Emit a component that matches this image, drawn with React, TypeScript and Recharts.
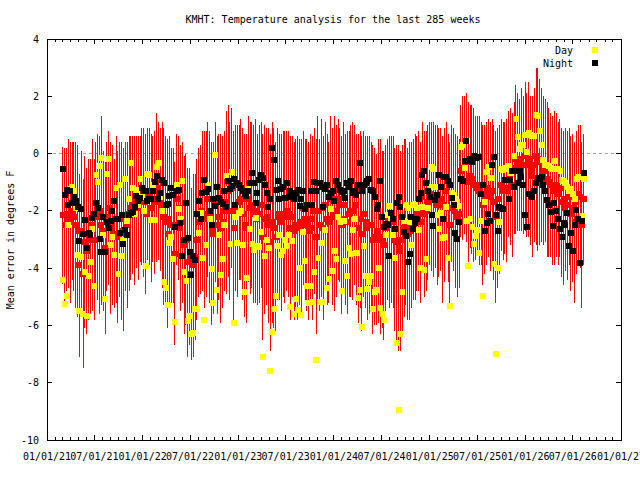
import { ScatterChart, Scatter, XAxis, YAxis, ErrorBar, ReferenceLine, ReferenceArea } from 'recharts';

// weekly forecast error, degrees F, first week 2021-03-03
const FIRST_WEEK = Date.UTC(2021, 2, 3);
const WEEK_MS = 7 * 24 * 3600 * 1000;
const X_MIN = Date.UTC(2021, 0, 1);
const X_MAX = Date.UTC(2027, 0, 1);

const dayError = [
  -4.4, -5.24, -4.97, -2.49, -1.22, -1.16, -1.3, -1.9, -3.54, -5.5, -3.6, -5.59, -4.12, -5.67, -4.28,
  -3.77, -2.63, -4.61, -0.76, -0.98, -0.45, -0.14, -2.86, -5.08, -0.73, -0.2, -3.2, -2.9, -3.54, -1.2,
  -4.2, -1.08, -3.57, -3.0, -0.9, -2.37, -1.6, -0.34, -1.2, -2.1, -1.27, -1.8, -0.9, -1.5, -2.0,
  -3.91, -0.71, -0.74, -2.32, -1.11, -2.32, -0.46, -0.34, -1.5, -2.0, -4.47, -4.68, -5.28, -3.12, -2.9,
  -3.68, -5.87, -1.09, -1.95, -2.28, -0.97, -4.12, -4.44, -5.84, -5.66, -6.29, -6.27, -5.43, -5.43, -2.77,
  -2.07, -3.63, -5.8, -3.2, -1.08, -2.28, -4.03, -5.22, -0.04, -4.75, -2.84, -4.24, -3.68, -2.5, -0.78,
  -1.25, -3.16, -0.64, -5.9, -2.23, -3.12, -2.07, -2.0, -3.19, -4.82, -4.35, -1.25, -2.65, -3.14, -3.37,
  -2.25, -3.23, -3.26, -2.74, -7.1, -3.56, -3.0, -3.3, -7.6, -6.22, -5.43, -4.96, -3.23, -2.84, -3.54,
  -3.4, -3.0, -3.23, -2.84, -5.36, -3.05, -5.61, -5.08, -5.47, -4.0, -5.64, -2.74, -3.75, -4.61, -5.22,
  -4.63, -5.19, -4.14, -7.2, -3.63, -5.17, -3.12, -5.19, -2.67, -4.7, -4.38, -1.95, -4.1, -3.4, -3.68,
  -2.21, -2.39, -4.8, -2.37, -3.75, -4.28, -3.28, -3.49, -2.67, -2.28, -3.47, -5.03, -4.77, -6.06, -3.21,
  -4.28, -4.73, -4.47, -4.26, -5.43, -4.82, -4.77, -3.98, -5.4, -5.6, -5.82, -2.86, -2.16, -1.83, -2.25,
  -2.86, -3.63, -6.6, -8.95, -6.31, -4.82, -2.35, -1.81, -1.9, -2.4, -3.19, -1.81, -1.76, -1.9, -2.67,
  -3.98, -1.88, -4.05, -3.68, -1.9, -1.18, -0.48, -0.53, -1.16, -2.16, -2.65, -2.07, -2.94, -2.93, -1.86,
  -3.63, -5.33, -1.37, -1.44, -1.6, -1.69, -1.83, 0.22, 0.29, -0.5, -2.35, -3.91, -2.28, -2.56, -3.14,
  -2.88, -2.67, -3.47, -2.35, -4.96, -1.69, -0.64, -0.46, -0.85, -0.85, -3.84, -7.0, -4.0, -2.39, -0.53,
  -0.57, -0.5, -0.55, -0.43, -0.67, -0.62, -0.08, 1.2, 0.57, 0.15, 0.29, 0.29, 0.66, 0.06, 0.73,
  0.64, 0.62, 0.62, 1.34, 1.32, 0.78, 0.29, -0.22, -0.41, -0.41, -0.43, -0.5, -0.55, -0.27, -0.53,
  -0.55, -0.6, -0.92, -0.97, -1.02, -1.18, -1.3, -1.25, -1.4, -1.6, -0.9, -0.81, -0.81, -2.18, -0.9,
];

const nightError = [
  -0.55, -1.45, -1.26, -1.79, -1.29, -1.74, -1.51, -1.67, -1.88, -3.04, -1.93, -2.8, -2.31, -3.28, -2.77,
  -2.84, -2.24, -2.1, -1.74, -1.9, -2.97, -3.42, -2.21, -3.43, -2.39, -2.59, -2.37, -2.0, -1.64, -2.3,
  -2.3, -2.77, -2.14, -3.16, -2.67, -2.84, -2.16, -2.06, -2.04, -1.86, -1.48, -1.65, -1.55, -1.19, -1.3,
  -1.3, -1.67, -1.6, -1.6, -1.32, -0.99, -0.78, -1.57, -1.36, -0.92, -1.04, -1.79, -1.76, -1.48, -1.2,
  -1.46, -2.56, -1.3, -1.28, -2.42, -3.56, -3.0, -1.72, -2.94, -3.44, -4.23, -3.56, -3.7, -2.1, -1.64,
  -2.3, -1.39, -0.92, -1.34, -1.23, -2.0, -2.49, -1.58, -1.83, -1.16, -1.55, -1.7, -1.76, -1.32, -1.88,
  -0.97, -1.25, -1.13, -0.88, -1.79, -1.04, -1.09, -1.2, -1.32, -1.41, -1.48, -1.3, -1.04, -0.69, -1.04,
  -1.74, -1.39, -0.92, -0.76, -0.85, -1.1, -1.37, -1.86, -1.6, 0.21, -0.22, -1.27, -0.95, -1.58, -1.23,
  -1.16, -1.55, -1.02, -1.51, -1.3, -1.41, -1.58, -1.39, -1.27, -1.83, -1.58, -1.32, -1.95, -1.81, -1.79,
  -1.32, -1.81, -0.99, -1.32, -1.02, -1.04, -1.16, -1.86, -1.25, -1.11, -1.5, -1.37, -1.32, -1.67, -0.97,
  -1.11, -1.27, -1.34, -1.32, -1.55, -1.04, -1.16, -0.97, -1.39, -1.3, -1.44, -1.09, -0.34, -1.32, -1.09,
  -1.02, -0.95, -0.9, -1.27, -1.3, -1.51, -1.95, -1.79, -0.97, -2.2, -2.58, -2.46, -2.51, -3.58, -2.09,
  -2.3, -2.63, -1.72, -1.53, -1.86, -2.21, -2.74, -2.88, -3.79, -3.51, -2.21, -2.65, -2.42, -2.28, -1.6,
  -1.37, -0.76, -0.6, -1.02, -1.3, -1.51, -2.16, -2.53, -1.62, -1.44, -0.74, -1.18, -2.28, -0.83, -0.81,
  -0.95, -1.09, -1.55, -1.79, -2.79, -2.98, -2.39, -0.88, -0.97, -0.27, 0.43, -0.27, -0.2, -0.29, -0.08,
  -0.15, -0.13, -0.11, -1.41, -1.09, -2.72, -2.44, -2.11, -2.37, -0.39, -0.11, -2.16, -2.72, -1.88, -1.9,
  -1.95, -0.92, -0.92, -1.58, -0.92, -0.62, -1.16, -0.62, -1.02, -0.62, -0.83, -1.11, -2.14, -2.58, -1.41,
  -1.48, -1.53, -1.3, -1.02, -0.85, -0.9, -0.81, -1.1, -1.3, -1.62, -1.8, -2.04, -2.53, -1.74, -2.0,
  -2.3, -2.65, -2.93, -2.42, -2.51, -2.09, -3.21, -2.79, -3.4, -2.51, -1.97, -2.3, -3.82, -2.35, -0.67,
];

// all-hours mean error (red) and its spread (error bar half height)
const meanError = [
  -2.16, -2.5, -2.3, -2.1, -2.4, -2.0, -2.2, -2.5, -2.7, -3.9, -2.7, -4.2, -3.1, -3.4, -3.0,
  -2.9, -2.5, -3.0, -2.1, -2.2, -2.5, -2.0, -2.7, -3.3, -2.2, -1.9, -2.6, -2.5, -2.8, -2.3,
  -2.9, -2.3, -2.7, -3.0, -2.2, -2.5, -2.1, -1.9, -1.8, -2.0, -1.7, -1.9, -1.6, -1.5, -1.7,
  -2.1, -1.4, -1.5, -1.9, -1.6, -1.7, -1.2, -1.3, -1.6, -1.8, -2.2, -2.4, -2.8, -2.3, -2.5,
  -2.5, -3.5, -1.6, -1.9, -2.6, -2.4, -3.2, -3.0, -3.8, -3.6, -4.2, -3.9, -3.6, -3.0, -2.4,
  -2.3, -2.0, -2.3, -2.1, -1.6, -2.2, -2.8, -2.6, -1.7, -2.5, -2.2, -2.6, -2.4, -2.0, -1.7,
  -1.3, -2.0, -1.2, -2.6, -1.9, -2.0, -1.7, -1.6, -2.1, -2.5, -2.6, -1.6, -1.9, -1.8, -2.1,
  -2.0, -2.3, -2.1, -1.8, -2.9, -2.3, -2.2, -2.5, -3.1, -2.4, -2.6, -2.9, -2.1, -2.2, -2.4,
  -2.1, -2.2, -2.0, -2.1, -2.6, -2.2, -2.7, -2.5, -2.6, -2.4, -2.6, -1.9, -2.3, -2.5, -2.7,
  -2.3, -2.6, -2.0, -2.9, -2.0, -2.5, -1.9, -2.6, -1.8, -2.3, -2.4, -1.6, -2.2, -2.1, -2.0,
  -1.6, -1.8, -2.5, -1.8, -2.3, -2.4, -2.1, -2.0, -2.0, -1.8, -2.3, -2.6, -2.3, -2.8, -2.1,
  -2.4, -2.6, -2.5, -2.5, -3.0, -2.9, -3.0, -2.7, -2.9, -3.0, -3.2, -2.6, -2.3, -2.4, -2.3,
  -2.4, -3.0, -3.1, -3.3, -3.4, -3.0, -2.6, -2.4, -2.8, -2.7, -2.5, -2.3, -2.2, -2.1, -2.0,
  -2.4, -1.5, -2.1, -2.0, -1.7, -1.4, -1.5, -1.6, -1.5, -1.8, -1.7, -1.6, -2.3, -1.8, -1.3,
  -1.9, -2.5, -1.4, -1.6, -2.0, -2.2, -2.1, -0.6, -0.5, -0.4, -0.5, -1.0, -0.8, -0.9, -1.1,
  -1.2, -1.1, -1.3, -1.4, -1.8, -1.6, -1.4, -1.2, -1.5, -1.3, -1.7, -2.2, -1.9, -1.6, -1.1,
  -1.3, -1.2, -1.3, -0.7, -0.8, -1.1, -0.5, -0.2, -0.3, -0.4, -0.2, -0.4, -0.1, -0.4, -0.2,
  -0.6, -0.8, -0.4, -0.1, -0.2, -0.3, -0.4, -0.6, -0.6, -0.9, -1.0, -1.1, -1.3, -1.2, -1.1,
  -1.4, -1.2, -1.7, -1.9, -1.6, -1.8, -1.5, -2.1, -1.9, -2.4, -1.7, -1.4, -1.5, -2.5, -1.6,
];

const spread = [
  2.4, 2.7, 2.5, 2.6, 2.8, 2.4, 2.6, 2.9, 3.0, 3.2, 2.8, 3.3, 3.0, 2.9, 2.8,
  2.7, 3.0, 2.8, 2.5, 2.9, 3.1, 3.3, 2.8, 3.0, 2.6, 2.7, 3.0, 2.8, 2.6, 2.9,
  3.0, 2.7, 3.1, 3.2, 2.6, 2.9, 2.7, 2.5, 2.4, 2.6, 2.3, 2.5, 2.2, 2.4, 2.6,
  2.8, 2.3, 2.4, 2.6, 2.2, 2.5, 2.6, 2.4, 2.5, 2.9, 3.1, 3.0, 3.3, 2.9, 2.7,
  2.7, 3.2, 2.3, 2.5, 2.9, 2.8, 3.1, 3.0, 3.3, 3.1, 3.0, 3.2, 2.9, 2.8, 2.6,
  2.6, 2.8, 3.1, 2.9, 2.7, 3.0, 3.2, 3.0, 2.8, 3.1, 2.9, 3.3, 3.0, 2.8, 3.2,
  3.0, 3.1, 2.8, 3.4, 2.9, 3.0, 2.7, 2.8, 3.0, 3.2, 3.3, 2.9, 3.0, 2.9, 3.1,
  3.2, 3.0, 3.1, 2.9, 3.6, 3.3, 3.1, 3.4, 3.8, 3.5, 3.5, 3.3, 3.0, 2.9, 3.1,
  2.9, 3.0, 2.8, 2.9, 3.2, 2.8, 3.1, 3.0, 3.2, 2.9, 3.1, 2.7, 2.8, 3.0, 3.1,
  3.0, 3.2, 2.9, 3.4, 3.3, 3.0, 3.1, 3.2, 2.9, 3.0, 2.8, 2.9, 3.1, 3.4, 3.0,
  2.8, 2.7, 3.1, 2.9, 3.0, 3.2, 2.9, 3.0, 3.1, 2.8, 3.0, 3.3, 3.1, 3.4, 2.9,
  3.0, 3.2, 3.1, 2.9, 3.3, 3.1, 3.0, 3.2, 3.4, 3.1, 3.3, 2.9, 2.8, 3.0, 2.9,
  3.0, 3.2, 3.4, 3.6, 3.5, 3.3, 3.1, 2.9, 3.0, 3.1, 2.9, 2.8, 2.9, 2.7, 2.8,
  2.8, 2.6, 2.9, 2.8, 2.7, 2.5, 2.6, 2.7, 2.5, 2.8, 2.6, 2.5, 2.9, 2.7, 2.4,
  2.6, 2.9, 2.4, 2.5, 2.7, 2.8, 2.6, 2.3, 2.5, 2.4, 2.6, 2.8, 2.5, 2.6, 2.7,
  2.5, 2.4, 2.6, 2.5, 2.8, 2.6, 2.5, 2.4, 2.6, 2.5, 2.7, 3.0, 2.8, 2.6, 2.3,
  2.4, 2.3, 2.5, 2.2, 2.4, 2.5, 2.3, 2.6, 2.4, 2.3, 2.5, 2.4, 2.6, 2.5, 2.7,
  2.6, 2.8, 2.7, 3.1, 3.2, 2.9, 2.7, 2.6, 2.5, 2.7, 2.6, 2.5, 2.6, 2.7, 2.5,
  2.5, 2.4, 2.6, 2.7, 2.5, 2.6, 2.4, 2.7, 2.6, 2.8, 2.5, 2.4, 2.5, 2.9, 2.3,
];

const yTicks = [-10, -8, -6, -4, -2, 0, 2, 4];

const monthTicks: number[] = [];
for (let y = 2021; y <= 2027; y++) {
  for (let m = 0; m < 12; m++) {
    const t = Date.UTC(y, m, 1);
    if (t <= X_MAX) monthTicks.push(t);
  }
}

const weekTimes = dayError.map((_, i) => FIRST_WEEK + i * WEEK_MS);
const meanRows = meanError.map((v, i) => ({ t: weekTimes[i], v, hw: spread[i] }));
const dayRows = dayError.map((v, i) => ({ t: weekTimes[i], v }));
const nightRows = nightError.map((v, i) => ({ t: weekTimes[i], v }));

// plot box in page pixels
const LEFT = 47;
const RIGHT = 621;
const TOP = 39;
const BOTTOM = 440;
const FONT = '"DejaVu Sans Mono", "Liberation Mono", monospace';

const pad = (n: number) => (n < 10 ? '0' + n : String(n));
const fmtDate = (t: number) => {
  const d = new Date(t);
  return `${pad(d.getUTCMonth() + 1)}/${pad(d.getUTCDate())}/${pad(d.getUTCFullYear() % 100)}`;
};

const XTick = (props: any) => {
  const { x, payload } = props;
  const major = new Date(payload.value).getUTCMonth() % 6 === 0;
  const len = major ? 5 : 3;
  return (
    <g>
      <line x1={x} x2={x} y1={BOTTOM} y2={BOTTOM - len} stroke="#000" shapeRendering="crispEdges" />
      <line x1={x} x2={x} y1={TOP} y2={TOP + len} stroke="#000" shapeRendering="crispEdges" />
      {major && (
        <text x={x} y={BOTTOM + 20} textAnchor="middle" fontFamily={FONT} fontSize={10} fill="#000">
          {fmtDate(payload.value)}
        </text>
      )}
    </g>
  );
};

const YTick = (props: any) => {
  const { y, payload } = props;
  return (
    <g>
      <line x1={LEFT} x2={LEFT + 5} y1={y} y2={y} stroke="#000" shapeRendering="crispEdges" />
      <line x1={RIGHT - 5} x2={RIGHT} y1={y} y2={y} stroke="#000" shapeRendering="crispEdges" />
      <text x={LEFT - 8} y={y + 3.5} textAnchor="end" fontFamily={FONT} fontSize={10} fill="#000">
        {payload.value}
      </text>
    </g>
  );
};

const box = (color: string) => (props: any) => (
  <rect x={props.cx - 3} y={props.cy - 3} width={6} height={6} fill={color} shapeRendering="crispEdges" />
);

export default function App() {
  return (
    <div style={{ position: 'absolute', left: 0, top: 0, width: 640, height: 480, background: '#fff' }}>
      <style>{`[class*="errorBar"] line { shape-rendering: crispEdges; }`}</style>
      <ScatterChart width={640} height={480} margin={{ top: TOP, right: 640 - RIGHT, bottom: 10, left: 7 }}>
        <XAxis
          type="number"
          dataKey="t"
          domain={[X_MIN, X_MAX]}
          ticks={monthTicks}
          interval={0}
          height={30}
          axisLine={false}
          tickLine={false}
          tick={XTick}
          allowDataOverflow
        />
        <YAxis
          type="number"
          dataKey="v"
          domain={[-10, 4]}
          ticks={yTicks}
          interval={0}
          width={40}
          axisLine={false}
          tickLine={false}
          tick={YTick}
          allowDataOverflow
        />
        <ReferenceLine y={0} stroke="#a0a0a0" strokeDasharray="3 3" shapeRendering="crispEdges" />
        <Scatter data={meanRows} fill="#ff0000" shape={box('#ff0000')} isAnimationActive={false}>
          <ErrorBar dataKey="hw" direction="y" width={0} stroke="#ff0000" strokeWidth={1} isAnimationActive={false} />
        </Scatter>
        <Scatter data={dayRows} fill="#ffff00" shape={box('#ffff00')} isAnimationActive={false} />
        <Scatter data={nightRows} fill="#000000" shape={box('#000000')} isAnimationActive={false} />
        <ReferenceArea
          x1={X_MIN}
          x2={X_MAX}
          y1={-10}
          y2={4}
          fill="none"
          stroke="#000"
          strokeWidth={1}
          shapeRendering="crispEdges"
          ifOverflow="visible"
        />
      </ScatterChart>
      <svg width={640} height={480} style={{ position: 'absolute', left: 0, top: 0, pointerEvents: 'none' }}>
        <g fontFamily={FONT} fontSize={10} fill="#000">
          <text x={333} y={23} textAnchor="middle">KMHT: Temperature analysis for the last 285 weeks</text>
          <text transform="translate(14,240) rotate(-90)" textAnchor="middle">Mean error in degrees F</text>
          <text x={573} y={53.5} textAnchor="end">Day</text>
          <text x={573} y={67} textAnchor="end">Night</text>
        </g>
        <rect x={592} y={47} width={6} height={6} fill="#ffff00" />
        <rect x={592} y={60} width={6} height={6} fill="#000000" />
      </svg>
    </div>
  );
}
